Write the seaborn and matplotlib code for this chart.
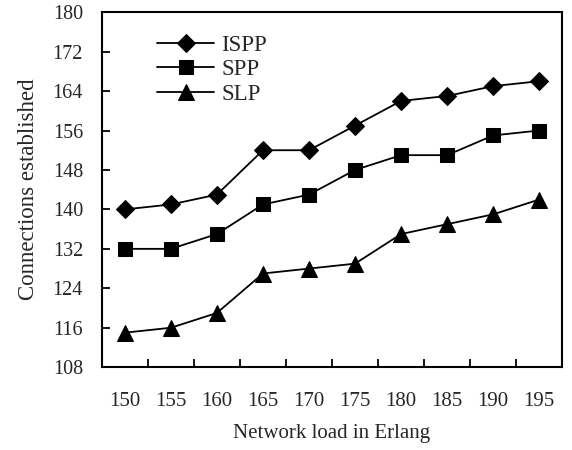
import numpy as np
import pandas as pd
import matplotlib
matplotlib.use("Agg")
import matplotlib.pyplot as plt
import seaborn as sns

loads = [150, 155, 160, 165, 170, 175, 180, 185, 190, 195]
ispp = [140, 141, 143, 152, 152, 157, 162, 163, 165, 166]
spp = [132, 132, 135, 141, 143, 148, 151, 151, 155, 156]
slp = [115, 116, 119, 127, 128, 129, 135, 137, 139, 142]
series_names = ["ISPP", "SPP", "SLP"]
y_ticks = [108, 116, 124, 132, 140, 148, 156, 164, 172, 180]

sns.set_theme(style="white")
plt.rcParams["font.family"] = ["Liberation Serif", "DejaVu Serif"]

pos = list(range(len(loads)))
df = pd.DataFrame({
    "pos": pos * 3,
    "value": ispp + spp + slp,
    "series": [s for s in series_names for _ in loads],
})

fig = plt.figure(figsize=(5.72, 4.50), dpi=100)
ax = fig.add_axes([0.178, 0.184, 0.805, 0.789])

markers = {"ISPP": "D", "SPP": "s", "SLP": "^"}
sizes = {"D": 9, "s": 10.5, "^": 12}
sns.lineplot(data=df, x="pos", y="value", hue="series", style="series",
             hue_order=series_names, style_order=series_names,
             palette={s: "black" for s in series_names},
             markers=markers, dashes=False, markersize=9, linewidth=1.3,
             markeredgecolor="black", ax=ax, legend=False)

for line in ax.lines:
    m = line.get_marker()
    if m in sizes:
        line.set_markersize(sizes[m])

ax.set_xlim(-0.5, len(loads) - 0.5)
ax.set_ylim(108, 180)
ax.set_yticks(y_ticks)
ax.set_yticklabels([str(t) for t in y_ticks], fontsize=14.5)
ax.set_xticks(pos)
ax.set_xticklabels([str(l) for l in loads], fontsize=15)
ax.tick_params(axis="x", which="major", length=0, pad=18)
ax.set_xticks([p + 0.5 for p in pos[:-1]], minor=True)
ax.tick_params(axis="x", which="minor", direction="in", length=6, width=1.3, bottom=True, top=False, color="black")
ax.tick_params(axis="y", which="major", direction="in", length=6, width=1.3, left=True, right=False, color="black", pad=13.5)

for sp in ax.spines.values():
    sp.set_visible(True)
    sp.set_color("black")
    sp.set_linewidth(1.5)

ax.set_xlabel("Network load in Erlang", fontsize=15, labelpad=9)
ax.set_ylabel("Connections established", fontsize=16.5, labelpad=10)

handles = [ax.lines[i] for i in range(len(series_names))]
leg = ax.legend(handles, series_names, loc="upper left", frameon=False, fontsize=16.5,
                handlelength=2.5, bbox_to_anchor=(0.09, 0.975), borderaxespad=0.2,
                labelspacing=0.15, handletextpad=0.3)

fig.savefig("out.png", dpi=100)
